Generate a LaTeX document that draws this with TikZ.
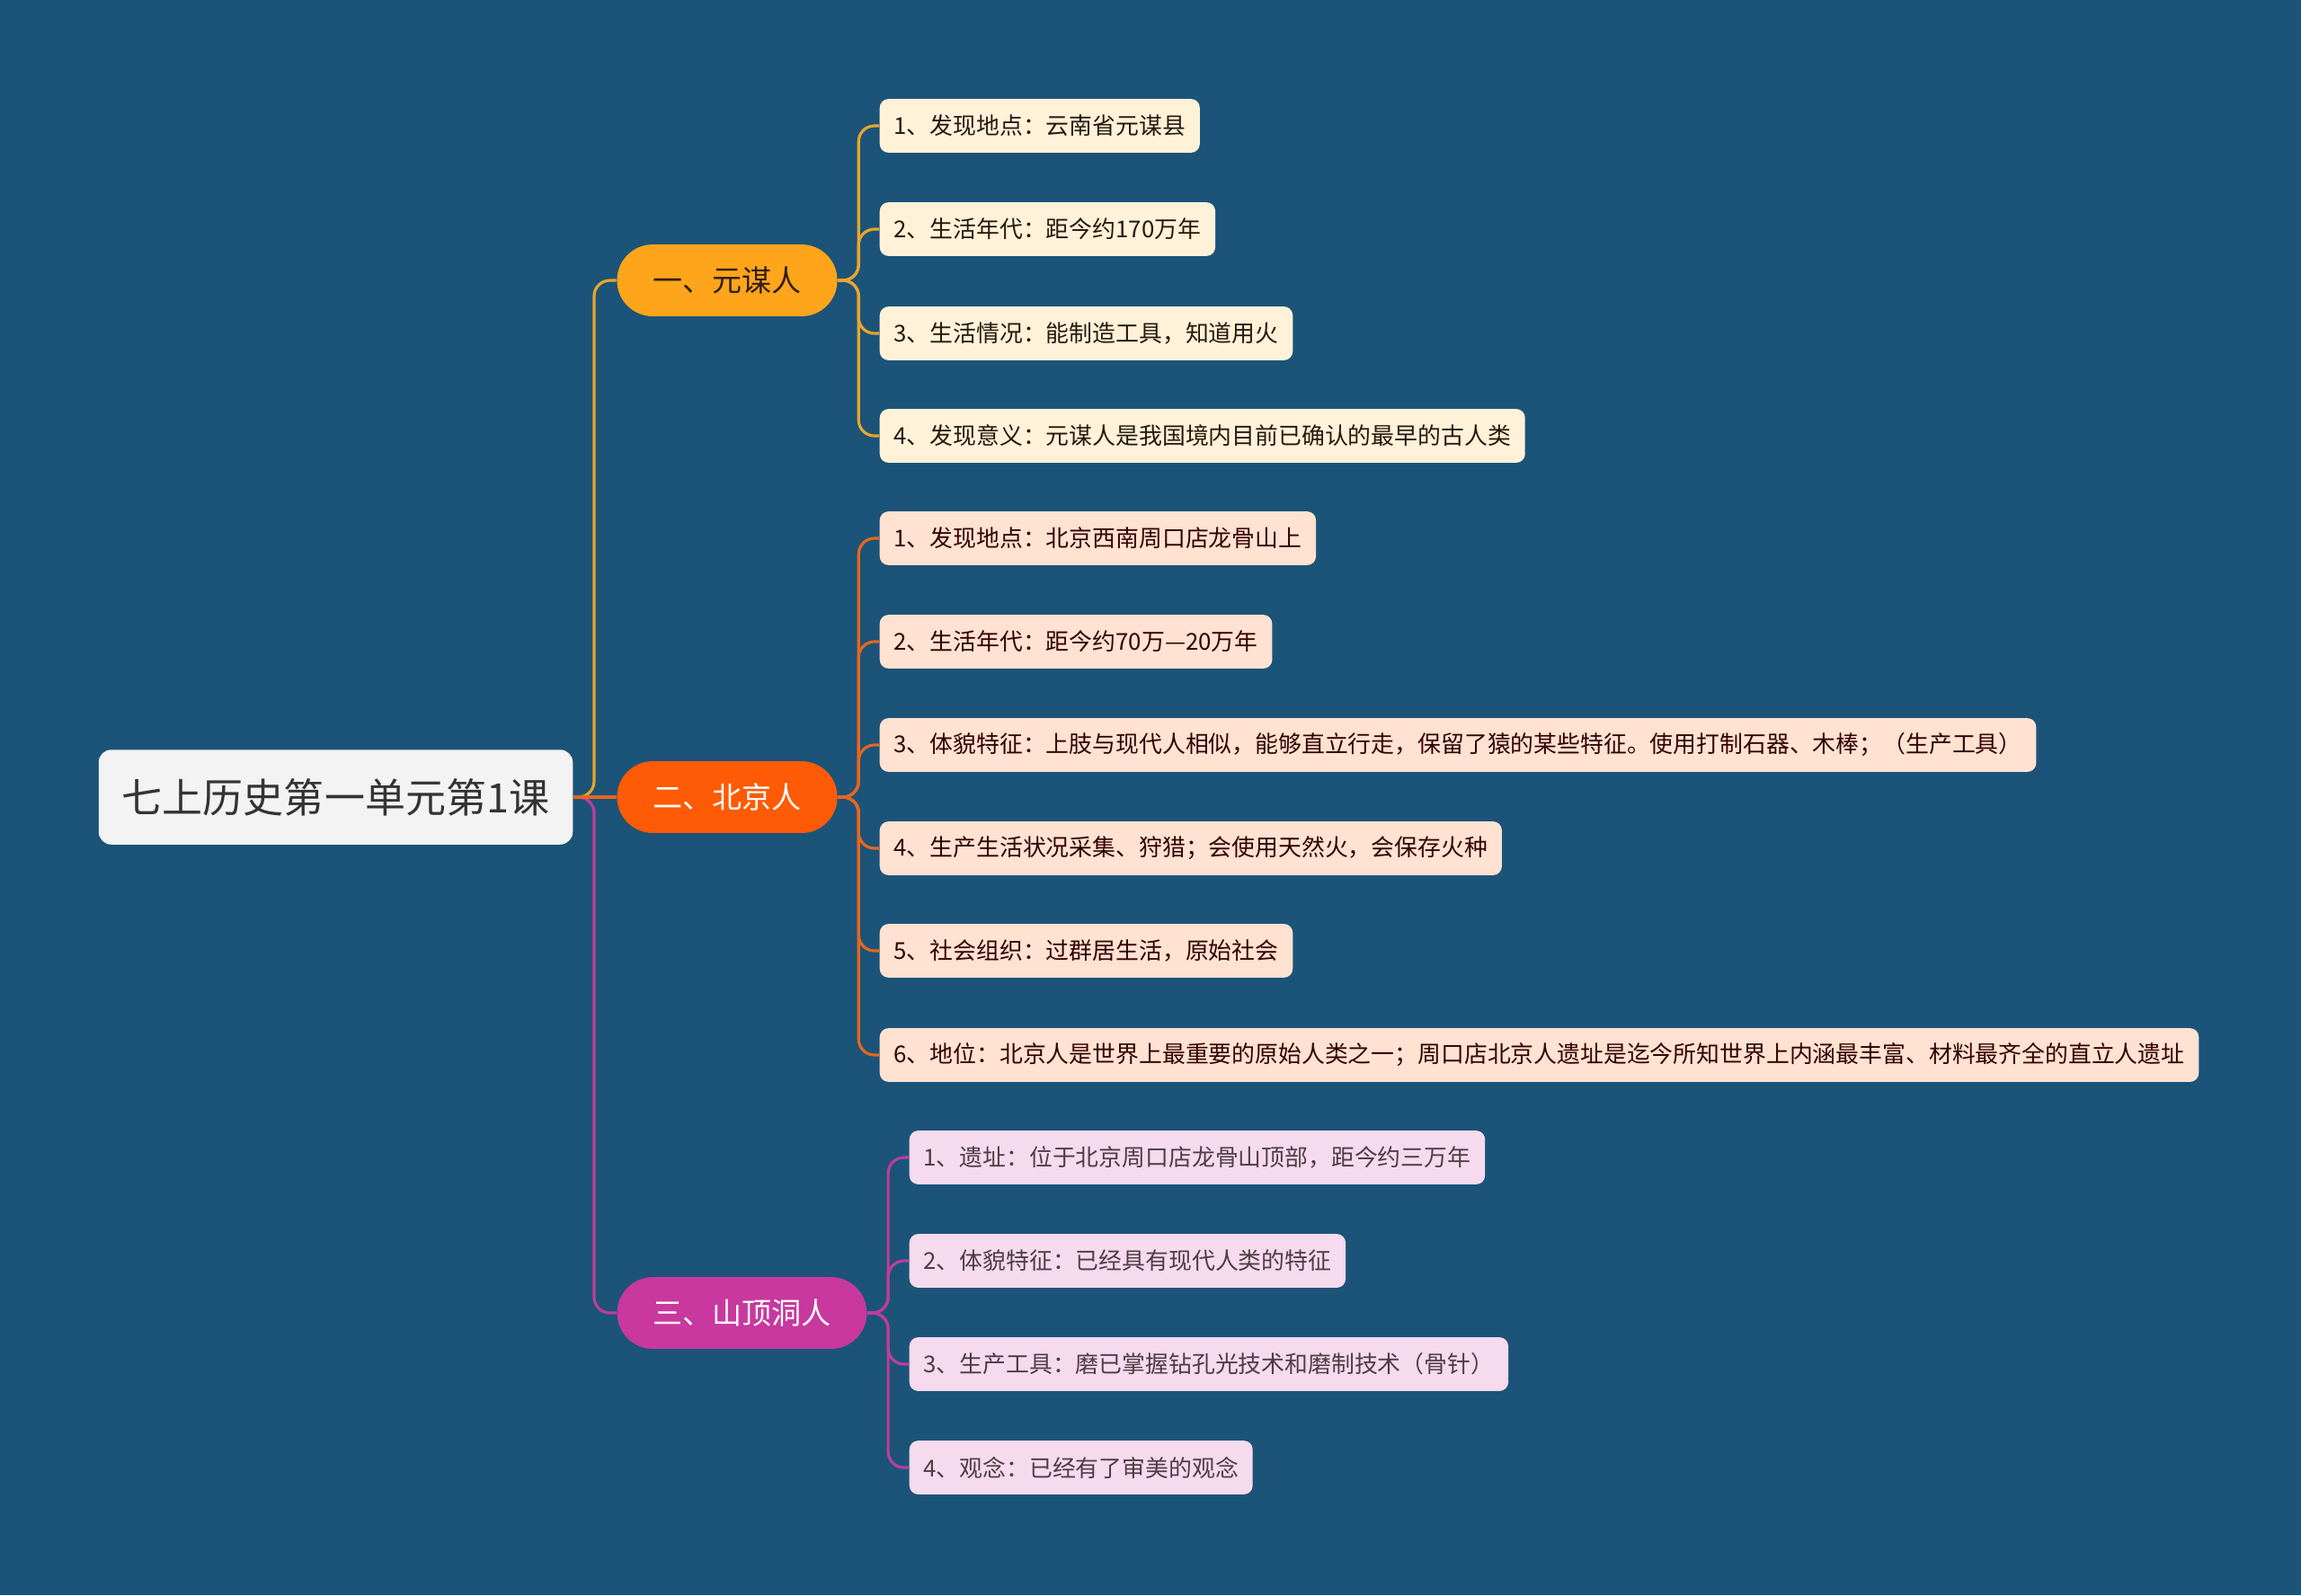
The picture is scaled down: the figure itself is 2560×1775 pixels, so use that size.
\documentclass[tikz,border=0pt]{standalone}
\usepackage{fontspec}
\newfontfamily\cjk{Noto Sans CJK SC}
\usetikzlibrary{positioning}
\definecolor{mm-bg}{HTML}{1B5478}
\definecolor{mm-main}{HTML}{F3F3F3}
\definecolor{mm-yellow}{HTML}{FFA51C}
\definecolor{mm-orange}{HTML}{FF5A05}
\definecolor{mm-purple}{HTML}{C8389E}
\definecolor{mm-cream}{HTML}{FFF2D9}
\definecolor{mm-peach}{HTML}{FFE2D1}
\definecolor{mm-pink}{HTML}{F6DAEE}
\definecolor{line-yellow}{HTML}{E9A52C}
\definecolor{line-orange}{HTML}{E8661F}
\definecolor{line-purple}{HTML}{C03C9C}

\tikzset{
  mainbox/.style={fill=mm-main, rounded corners=4pt, minimum width=150pt, minimum height=30pt,
    text=black!80, font=\cjk\fontsize{12.8pt}{15pt}\selectfont},
  topicbox/.style={rounded corners=11.3pt, minimum width=69.7pt, minimum height=22.7pt,
    font=\cjk\fontsize{9.4pt}{11pt}\selectfont},
  leafbox/.style={rounded corners=2.8pt, inner xsep=4.5pt, minimum height=17pt, anchor=west,
    font=\cjk\fontsize{7.35pt}{9pt}\selectfont},
  link/.style={line width=0.9pt, rounded corners=5pt}
}

\begin{document}
\begin{tikzpicture}[x=0.01cm, y=-0.01cm]
    \fill[mm-bg] (0,0) rectangle (2560,1775);
    \useasboundingbox (0,0) rectangle (2560,1775);

    \node[mainbox] (main) at (373.5,887) {七上历史第一单元第1课};
    \node[topicbox, fill=mm-orange, text=white, right=13.6pt of main] (b2) {二、北京人};
    \node[topicbox, fill=mm-yellow, text=black!75!brown] (b1) at (809,312) {一、元谋人};
    \node[topicbox, fill=mm-purple, text=white, minimum width=79pt] (b3) at (825.5,1461) {三、山顶洞人};

    % 元谋人
    \node[leafbox, fill=mm-cream, text=black!80!brown] (y1) at (978,140) {1、发现地点：云南省元谋县};
    \node[leafbox, fill=mm-cream, text=black!80!brown] (y2) at (978,255) {2、生活年代：距今约170万年};
    \node[leafbox, fill=mm-cream, text=black!80!brown] (y3) at (978,371) {3、生活情况：能制造工具，知道用火};
    \node[leafbox, fill=mm-cream, text=black!80!brown] (y4) at (978,485) {4、发现意义：元谋人是我国境内目前已确认的最早的古人类};

    % 北京人
    \node[leafbox, fill=mm-peach, text=black!80!red] (p1) at (978,599) {1、发现地点：北京西南周口店龙骨山上};
    \node[leafbox, fill=mm-peach, text=black!80!red] (p2) at (978,714) {2、生活年代：距今约70万—20万年};
    \node[leafbox, fill=mm-peach, text=black!80!red] (p3) at (978,829) {3、体貌特征：上肢与现代人相似，能够直立行走，保留了猿的某些特征。使用打制石器、木棒；（生产工具）};
    \node[leafbox, fill=mm-peach, text=black!80!red] (p4) at (978,944) {4、生产生活状况采集、狩猎；会使用天然火，会保存火种};
    \node[leafbox, fill=mm-peach, text=black!80!red] (p5) at (978,1058) {5、社会组织：过群居生活，原始社会};
    \node[leafbox, fill=mm-peach, text=black!80!red] (p6) at (978,1174) {6、地位：北京人是世界上最重要的原始人类之一；周口店北京人遗址是迄今所知世界上内涵最丰富、材料最齐全的直立人遗址};

    % 山顶洞人
    \node[leafbox, fill=mm-pink, text=black!80!magenta] (s1) at (1011,1288) {1、遗址：位于北京周口店龙骨山顶部，距今约三万年};
    \node[leafbox, fill=mm-pink, text=black!80!magenta] (s2) at (1011,1403) {2、体貌特征：已经具有现代人类的特征};
    \node[leafbox, fill=mm-pink, text=black!80!magenta] (s3) at (1011,1518) {3、生产工具：磨已掌握钻孔光技术和磨制技术（骨针）};
    \node[leafbox, fill=mm-pink, text=black!80!magenta] (s4) at (1011,1633) {4、观念：已经有了审美的观念};

    \draw[link, line-yellow] (main.east) -- ++(23,0) |- (b1.west);
    \draw[link, line-purple] (main.east) -- ++(23,0) |- (b3.west);
    \draw[link, line-orange] (main.east) -- (b2.west);

    \draw[link, line-yellow] (b1.east) -- ++(23,0) |- (y1.west); \draw[link, line-yellow] (b1.east) -- ++(23,0) |- (y2.west);
    \draw[link, line-yellow] (b1.east) -- ++(23,0) |- (y3.west); \draw[link, line-yellow] (b1.east) -- ++(23,0) |- (y4.west);

    \draw[link, line-orange] (b2.east) -- ++(23,0) |- (p1.west); \draw[link, line-orange] (b2.east) -- ++(23,0) |- (p2.west);
    \draw[link, line-orange] (b2.east) -- ++(23,0) |- (p3.west); \draw[link, line-orange] (b2.east) -- ++(23,0) |- (p4.west);
    \draw[link, line-orange] (b2.east) -- ++(23,0) |- (p5.west); \draw[link, line-orange] (b2.east) -- ++(23,0) |- (p6.west);

    \draw[link, line-purple] (b3.east) -- ++(23,0) |- (s1.west); \draw[link, line-purple] (b3.east) -- ++(23,0) |- (s2.west);
    \draw[link, line-purple] (b3.east) -- ++(23,0) |- (s3.west); \draw[link, line-purple] (b3.east) -- ++(23,0) |- (s4.west);
\end{tikzpicture}
\end{document}
